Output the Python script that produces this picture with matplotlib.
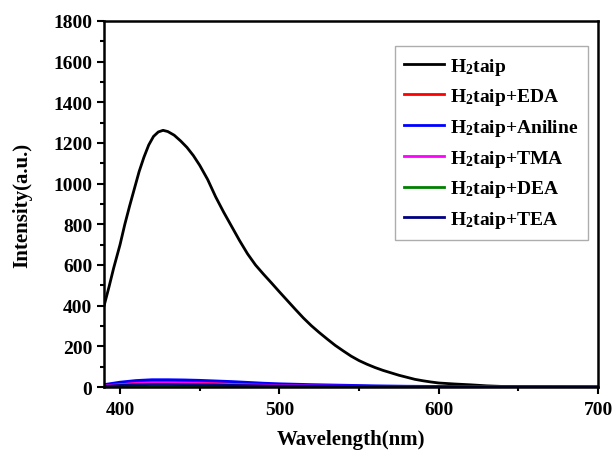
import numpy as np
import matplotlib
matplotlib.use('Agg')
import matplotlib.pyplot as plt
from matplotlib.ticker import MultipleLocator

plt.rcParams['font.family'] = 'Liberation Serif'
plt.rcParams['font.weight'] = 'bold'
plt.rcParams['mathtext.fontset'] = 'custom'
plt.rcParams['mathtext.rm'] = 'Liberation Serif:bold'
plt.rcParams['mathtext.it'] = 'Liberation Serif:bold'
plt.rcParams['mathtext.bf'] = 'Liberation Serif:bold'

# H2taip emission spectrum
wl = [390, 393, 396, 400, 403, 406, 409, 412, 415, 418, 421, 424, 427, 430, 434, 438, 442, 446,
      450, 455, 460, 465, 470, 475, 480, 485, 490, 495, 500, 505, 510, 515, 520, 525, 530, 535,
      540, 545, 550, 555, 560, 565, 570, 575, 580, 585, 590, 595, 600, 610, 620, 630, 640, 650,
      670, 700]
h2taip = [400, 490, 585, 700, 800, 890, 975, 1060, 1130, 1190, 1232, 1254, 1262, 1256, 1238,
          1210, 1178, 1138, 1090, 1020, 935, 860, 790, 720, 655, 600, 555, 512, 468, 425, 382,
          340, 302, 268, 236, 205, 178, 152, 130, 112, 96, 82, 70, 58, 48, 38, 31, 25, 20, 15,
          11, 6, 3, 2, 1, 0]

# quenched spectra (all nearly flat)
wl_q = [390, 400, 410, 420, 430, 440, 450, 460, 470, 480, 490, 500, 520, 540, 560, 580, 600,
        620, 650, 700]
eda = [8, 16, 22, 25, 25, 24, 22, 20, 17, 14, 12, 10, 7, 5, 3, 2, 1, 1, 0, 0]
aniline = [12, 24, 32, 36, 36, 35, 33, 30, 27, 23, 19, 16, 12, 9, 6, 4, 3, 2, 1, 0]
tma = [6, 12, 17, 19, 19, 18, 17, 15, 13, 11, 9, 7, 5, 4, 3, 2, 1, 0, 0, 0]
dea = [2, 4, 5, 6, 6, 6, 5, 5, 4, 3, 3, 2, 2, 1, 1, 0, 0, 0, 0, 0]
tea = [4, 8, 11, 13, 13, 12, 11, 10, 8, 7, 6, 5, 3, 2, 2, 1, 1, 0, 0, 0]

labels = ['H$_2$taip', 'H$_2$taip+EDA', 'H$_2$taip+Aniline', 'H$_2$taip+TMA',
          'H$_2$taip+DEA', 'H$_2$taip+TEA']
colors = ['black', 'red', 'blue', 'magenta', 'green', 'navy']

fig = plt.figure(figsize=(6.16, 4.56), dpi=100)
ax = fig.add_axes([0.169, 0.149, 0.802, 0.803])

ax.plot(wl, h2taip, color=colors[0], lw=2, label=labels[0])
for s, c, lab in zip([eda, aniline, tma, dea, tea], colors[1:], labels[1:]):
    ax.plot(wl_q, s, color=c, lw=2, label=lab)

ax.set_xlim(390, 700)
ax.set_ylim(0, 1800)
ax.xaxis.set_major_locator(MultipleLocator(100))
ax.xaxis.set_minor_locator(MultipleLocator(50))
ax.yaxis.set_major_locator(MultipleLocator(200))
ax.yaxis.set_minor_locator(MultipleLocator(100))
ax.tick_params(which='both', direction='out', width=1.5, labelsize=14)
ax.tick_params(which='major', length=5)
ax.tick_params(which='minor', length=3)
ax.tick_params(axis='x', which='major', pad=5)
for sp in ax.spines.values():
    sp.set_linewidth(1.8)

ax.set_xlabel('Wavelength(nm)', fontsize=15, fontweight='bold', labelpad=8)
ax.set_ylabel('Intensity(a.u.)', fontsize=15, fontweight='bold', labelpad=15)

leg = ax.legend(loc='upper right', bbox_to_anchor=(0.98, 0.932), borderaxespad=0,
                fontsize=14, fancybox=False, edgecolor='#999999',
                handlelength=2.05, handletextpad=0.3, labelspacing=0.5, borderpad=0.5)
leg.get_frame().set_linewidth(1.0)

fig.savefig('out.png', dpi=100)
